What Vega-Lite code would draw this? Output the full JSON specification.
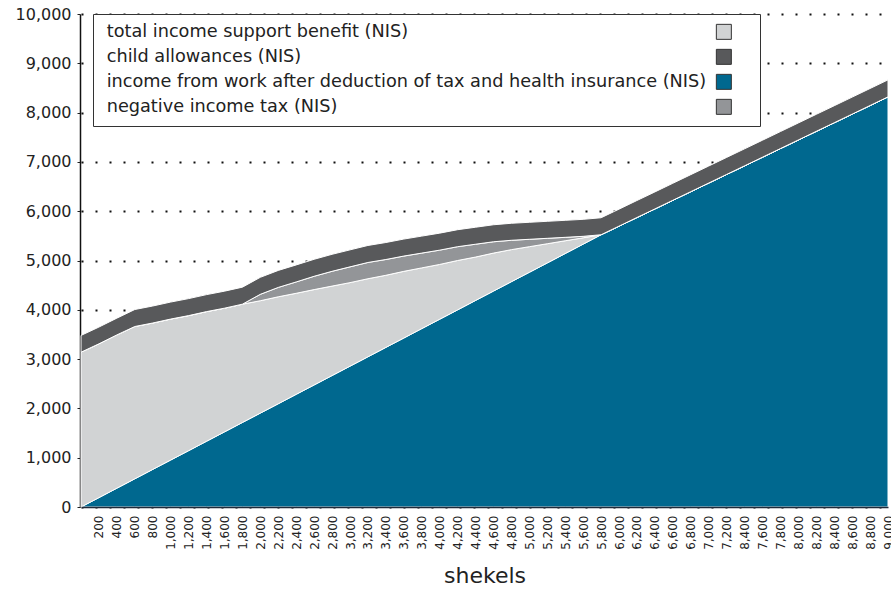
{
  "$schema": "https://vega.github.io/schema/vega-lite/v6.json",
  "width": 807,
  "height": 493,
  "autosize": {"type": "none"},
  "padding": {"left": 81, "top": 14, "right": 3, "bottom": 83},
  "background": "white",
  "config": {
    "font": "DejaVu Sans",
    "view": {"stroke": null},
    "axis": {"labelColor": "#222222", "titleColor": "#222222", "labelFont": "DejaVu Sans", "titleFont": "DejaVu Sans"}
  },
  "data": {
    "values": [
      {"shekels": 0, "work": 0, "support": 3140, "nit": 0, "child": 340},
      {"shekels": 200, "work": 190, "support": 3120, "nit": 0, "child": 340},
      {"shekels": 400, "work": 381, "support": 3110, "nit": 0, "child": 340},
      {"shekels": 600, "work": 571, "support": 3090, "nit": 0, "child": 345},
      {"shekels": 800, "work": 762, "support": 2970, "nit": 0, "child": 345},
      {"shekels": 1000, "work": 952, "support": 2860, "nit": 0, "child": 345},
      {"shekels": 1200, "work": 1142, "support": 2740, "nit": 0, "child": 345},
      {"shekels": 1400, "work": 1333, "support": 2630, "nit": 0, "child": 345},
      {"shekels": 1600, "work": 1523, "support": 2510, "nit": 0, "child": 345},
      {"shekels": 1800, "work": 1714, "support": 2400, "nit": 0, "child": 345},
      {"shekels": 2000, "work": 1904, "support": 2280, "nit": 130, "child": 345},
      {"shekels": 2200, "work": 2094, "support": 2170, "nit": 190, "child": 345},
      {"shekels": 2400, "work": 2285, "support": 2050, "nit": 230, "child": 345},
      {"shekels": 2600, "work": 2475, "support": 1935, "nit": 270, "child": 345},
      {"shekels": 2800, "work": 2666, "support": 1815, "nit": 300, "child": 345},
      {"shekels": 3000, "work": 2856, "support": 1695, "nit": 320, "child": 345},
      {"shekels": 3200, "work": 3046, "support": 1584, "nit": 330, "child": 345},
      {"shekels": 3400, "work": 3237, "support": 1463, "nit": 320, "child": 345},
      {"shekels": 3600, "work": 3427, "support": 1353, "nit": 310, "child": 345},
      {"shekels": 3800, "work": 3618, "support": 1232, "nit": 300, "child": 345},
      {"shekels": 4000, "work": 3808, "support": 1112, "nit": 290, "child": 345},
      {"shekels": 4200, "work": 3998, "support": 1002, "nit": 280, "child": 345},
      {"shekels": 4400, "work": 4189, "support": 881, "nit": 260, "child": 345},
      {"shekels": 4600, "work": 4379, "support": 771, "nit": 230, "child": 345},
      {"shekels": 4800, "work": 4570, "support": 650, "nit": 190, "child": 345},
      {"shekels": 5000, "work": 4760, "support": 520, "nit": 150, "child": 345},
      {"shekels": 5200, "work": 4950, "support": 390, "nit": 110, "child": 345},
      {"shekels": 5400, "work": 5141, "support": 259, "nit": 70, "child": 345},
      {"shekels": 5600, "work": 5331, "support": 129, "nit": 30, "child": 345},
      {"shekels": 5800, "work": 5522, "support": 0, "nit": 0, "child": 345},
      {"shekels": 6000, "work": 5697, "support": 0, "nit": 0, "child": 345},
      {"shekels": 6200, "work": 5872, "support": 0, "nit": 0, "child": 345},
      {"shekels": 6400, "work": 6046, "support": 0, "nit": 0, "child": 345},
      {"shekels": 6600, "work": 6221, "support": 0, "nit": 0, "child": 345},
      {"shekels": 6800, "work": 6396, "support": 0, "nit": 0, "child": 345},
      {"shekels": 7000, "work": 6571, "support": 0, "nit": 0, "child": 345},
      {"shekels": 7200, "work": 6746, "support": 0, "nit": 0, "child": 345},
      {"shekels": 7400, "work": 6920, "support": 0, "nit": 0, "child": 345},
      {"shekels": 7600, "work": 7095, "support": 0, "nit": 0, "child": 345},
      {"shekels": 7800, "work": 7270, "support": 0, "nit": 0, "child": 345},
      {"shekels": 8000, "work": 7445, "support": 0, "nit": 0, "child": 345},
      {"shekels": 8200, "work": 7620, "support": 0, "nit": 0, "child": 345},
      {"shekels": 8400, "work": 7794, "support": 0, "nit": 0, "child": 345},
      {"shekels": 8600, "work": 7969, "support": 0, "nit": 0, "child": 345},
      {"shekels": 8800, "work": 8144, "support": 0, "nit": 0, "child": 345},
      {"shekels": 9000, "work": 8319, "support": 0, "nit": 0, "child": 345}
    ]
  },
  "transform": [
    {"fold": ["work", "support", "nit", "child"], "as": ["component", "value"]}
  ],
  "mark": {"type": "area", "interpolate": "linear", "stroke": "white", "strokeWidth": 1, "fillOpacity": 1},
  "encoding": {
    "x": {
      "field": "shekels",
      "type": "quantitative",
      "scale": {"domain": [0, 9000], "nice": false, "zero": false},
      "axis": {
        "title": "shekels",
        "titleFontSize": 22,
        "titleFontWeight": "normal",
        "titlePadding": 16,
        "values": [200, 400, 600, 800, 1000, 1200, 1400, 1600, 1800, 2000, 2200, 2400, 2600, 2800, 3000, 3200, 3400, 3600, 3800, 4000, 4200, 4400, 4600, 4800, 5000, 5200, 5400, 5600, 5800, 6000, 6200, 6400, 6600, 6800, 7000, 7200, 7400, 7600, 7800, 8000, 8200, 8400, 8600, 8800, 9000],
        "labelExpr": "datum.value == 7400 ? '8,400' : format(datum.value, ',')",
        "labelAngle": 270,
        "labelFontSize": 12,
        "labelPadding": 8,
        "labelOverlap": false,
        "ticks": false,
        "grid": false,
        "domainColor": "#1f2a3a",
        "domainWidth": 1.5,
        "zindex": 1
      }
    },
    "y": {
      "field": "value",
      "type": "quantitative",
      "stack": "zero",
      "scale": {"domain": [0, 10000], "nice": false},
      "axis": {
        "title": null,
        "values": [0, 1000, 2000, 3000, 4000, 5000, 6000, 7000, 8000, 9000, 10000],
        "labelExpr": "format(datum.value, ',')",
        "labelFontSize": 16,
        "labelPadding": 6,
        "tickSize": 3,
        "tickColor": "#222222",
        "domainColor": "#111111",
        "domainWidth": 1.5,
        "offset": 1,
        "grid": true,
        "gridColor": "#111111",
        "gridWidth": 2,
        "gridDash": [2, 12],
        "zindex": 0
      }
    },
    "color": {
      "field": "component",
      "type": "nominal",
      "scale": {
        "domain": ["support", "child", "work", "nit"],
        "range": ["#d1d3d4", "#58595b", "#00688f", "#939598"]
      },
      "legend": {
        "title": "\u00a0",
        "titleOrient": "right",
        "titlePadding": 18,
        "titleFontSize": 16,
        "orient": "none",
        "legendX": 12,
        "legendY": 0,
        "direction": "vertical",
        "labelExpr": "datum.value == 'support' ? 'total income support benefit (NIS)' : datum.value == 'child' ? 'child allowances (NIS)' : datum.value == 'work' ? 'income from work after deduction of tax and health insurance (NIS)' : 'negative income tax (NIS)'",
        "labelFont": "DejaVu Sans",
        "labelFontSize": 17.7,
        "labelColor": "#222222",
        "labelLimit": 800,
        "labelOffset": -626,
        "symbolOffset": 613,
        "symbolType": "square",
        "symbolSize": 225,
        "symbolStrokeColor": "#333333",
        "symbolStrokeWidth": 1,
        "symbolOpacity": 1,
        "rowPadding": 5,
        "padding": 9,
        "fillColor": "white",
        "strokeColor": "#333333"
      }
    },
    "order": {"field": "component", "sort": "descending"}
  }
}
